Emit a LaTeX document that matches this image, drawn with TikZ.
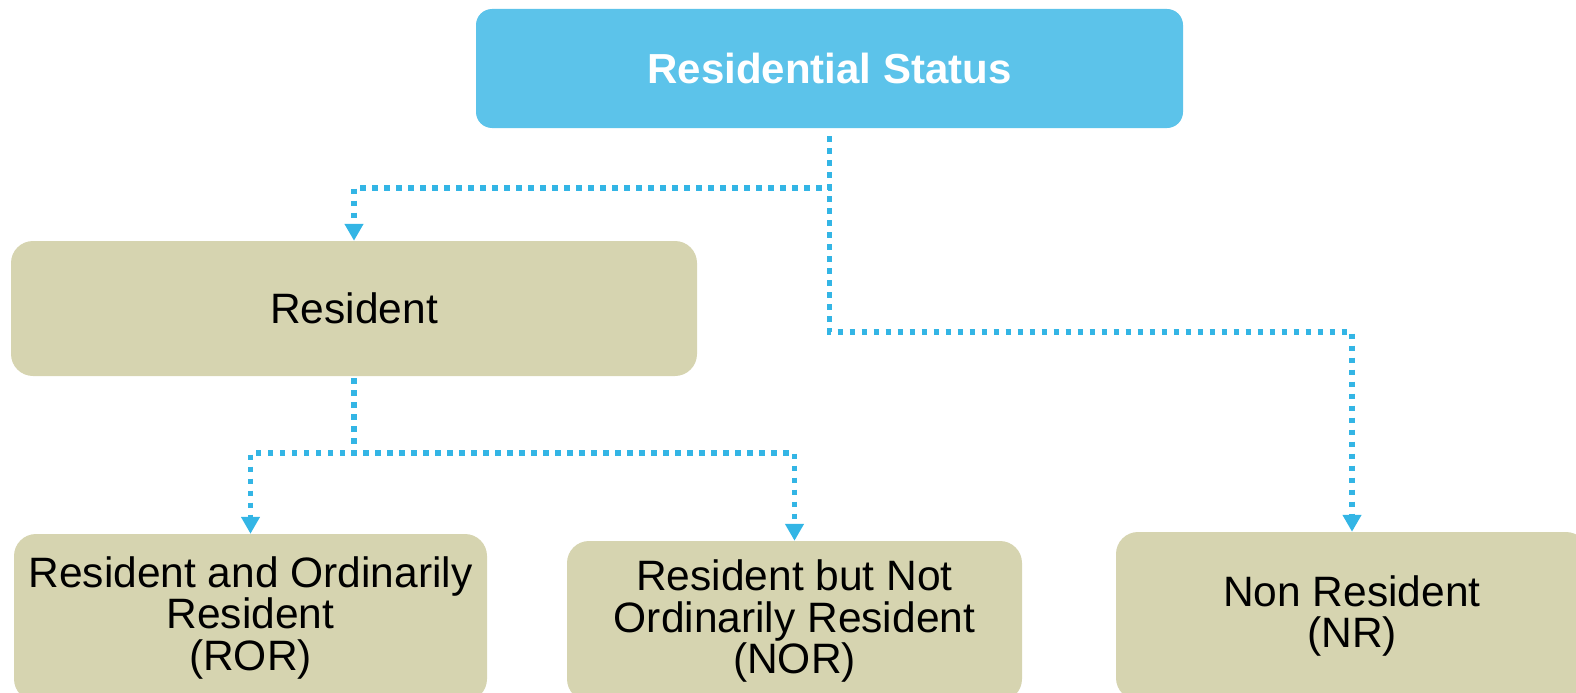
\documentclass[tikz,border=0pt]{standalone}
\usepackage{fontspec}
\setmainfont{Liberation Sans}
\usetikzlibrary{arrows.meta}

\definecolor{statusblue}{RGB}{92,195,234}
\definecolor{linkblue}{RGB}{51,181,229}
\definecolor{residentfill}{RGB}{214,212,176}

\begin{document}
\begin{tikzpicture}[x=1pt,y=-1pt]
\tikzset{
    headbox/.style={fill=statusblue, rounded corners=16pt, minimum width=707pt,
        minimum height=119pt, text=white, font=\fontsize{42}{48}\selectfont\bfseries},
    kindbox/.style={fill=residentfill, rounded corners=22pt, align=center,
        inner sep=0pt, font=\fontsize{42.5}{41.5}\selectfont},
    link/.style={draw=linkblue, line width=5.5pt, dash pattern=on 5.5pt off 6.5pt,
        -{Triangle[width=18pt,length=17pt]}}
}
\clip (0,0) rectangle (1576,693);

% top level
\node[headbox] (status) at (829.5,68.5) {Residential Status};

% second level
\node[kindbox, minimum width=686pt, minimum height=135pt] (res) at (354,308.5) {Resident};
\node[kindbox, minimum width=472pt, minimum height=168pt] (nr) at (1352,616) {Non Resident\\(NR)};

% third level
\node[kindbox, minimum width=473pt, minimum height=167pt] (ror) at (250.5,617.5) {Resident and Ordinarily\\Resident\\(ROR)};
\node[kindbox, minimum width=455pt, minimum height=160pt] (nor) at (794.5,621) {Resident but Not\\Ordinarily Resident\\(NOR)};

% dotted links
\draw[link, shorten <=8pt] (status.south) -- ++(0,60) -| (res.north);
\draw[link, shorten <=8pt] (status.south) -- ++(0,204) -| (nr.north);
\draw[link, shorten <=2pt] (res.south) -- ++(0,77) -| (ror.north);
\draw[link, shorten <=2pt] (res.south) -- ++(0,77) -| (nor.north);
\end{tikzpicture}
\end{document}
